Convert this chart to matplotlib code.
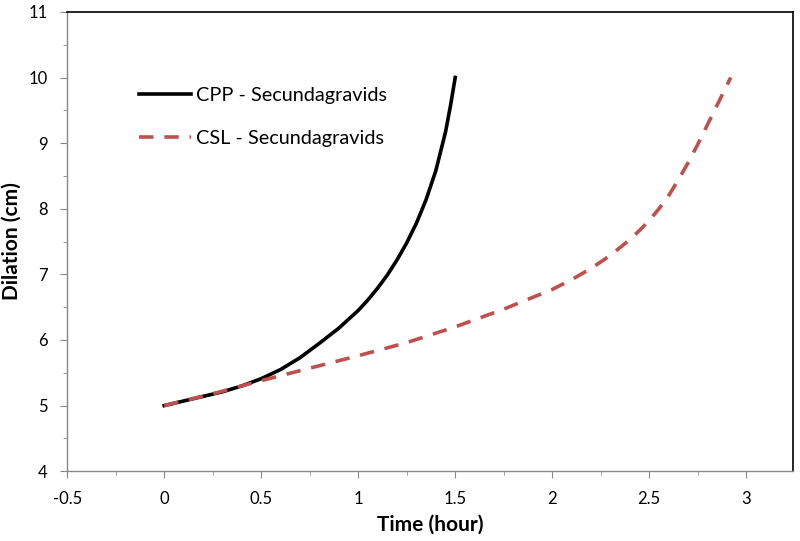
import numpy as np
import matplotlib.pyplot as plt
from matplotlib.ticker import MultipleLocator

# values
cpp_t = [0, 0.1, 0.2, 0.3, 0.4, 0.5, 0.6, 0.7, 0.8, 0.9, 1.0,
         1.05, 1.1, 1.15, 1.2, 1.25, 1.3, 1.35, 1.4, 1.45, 1.475, 1.5]
cpp_y = [5.0, 5.07, 5.14, 5.21, 5.30, 5.41, 5.55, 5.73, 5.95, 6.18, 6.45,
         6.61, 6.79, 6.99, 7.22, 7.48, 7.78, 8.14, 8.58, 9.17, 9.56, 10.0]

csl_t = [0, 0.25, 0.5, 0.75, 1.0, 1.25, 1.5, 1.75, 2.0, 2.1, 2.2, 2.3,
         2.4, 2.45, 2.5, 2.55, 2.6, 2.65, 2.7, 2.75, 2.8, 2.85, 2.92]
csl_y = [5.0, 5.18, 5.38, 5.57, 5.76, 5.96, 6.2, 6.47, 6.77, 6.92, 7.09, 7.29,
         7.53, 7.67, 7.82, 8.0, 8.2, 8.44, 8.7, 8.98, 9.28, 9.58, 10.0]

plt.rcParams['font.family'] = ['Lato', 'DejaVu Sans']

fig = plt.figure(figsize=(8, 5.41), dpi=100)
ax = fig.add_axes([0.084, 0.129, 0.907, 0.849])

ax.plot(cpp_t, cpp_y, color='black', lw=2.6, label='CPP - Secundagravids')
ax.plot(csl_t, csl_y, color='#C0504D', lw=2.6, dashes=(4, 3),
        label='CSL - Secundagravids')

ax.set_xlim(-0.5, 3.24)
ax.set_ylim(4, 11)
ax.xaxis.set_minor_locator(MultipleLocator(0.25))
ax.yaxis.set_major_locator(MultipleLocator(1))
ax.yaxis.set_minor_locator(MultipleLocator(0.5))
ax.set_xticks([-0.5, 0, 0.5, 1, 1.5, 2, 2.5, 3])
ax.set_xticklabels(['-0.5', '0', '0.5', '1', '1.5', '2', '2.5', '3'])

ax.tick_params(which='major', direction='out', length=5, color='#888888',
               labelsize=12)
ax.tick_params(axis='x', which='major', pad=9)
ax.tick_params(axis='y', which='major', pad=9)
ax.tick_params(which='minor', direction='out', length=3, color='#888888')

for s in ['left', 'bottom']:
    ax.spines[s].set_color('#888888')
    ax.spines[s].set_linewidth(1.0)
for s in ['top', 'right']:
    ax.spines[s].set_color('black')
    ax.spines[s].set_linewidth(1.2)

ax.set_xlabel('Time (hour)', fontsize=15, fontweight='bold', labelpad=6)
ax.set_ylabel('Dilation (cm)', fontsize=15, fontweight='bold', labelpad=5)

ax.legend(loc='upper left', bbox_to_anchor=(0.075, 0.875), frameon=False,
          fontsize=14.3, handlelength=2.6, handletextpad=0.25,
          labelspacing=1.3)

fig.savefig('out.png', dpi=100)
